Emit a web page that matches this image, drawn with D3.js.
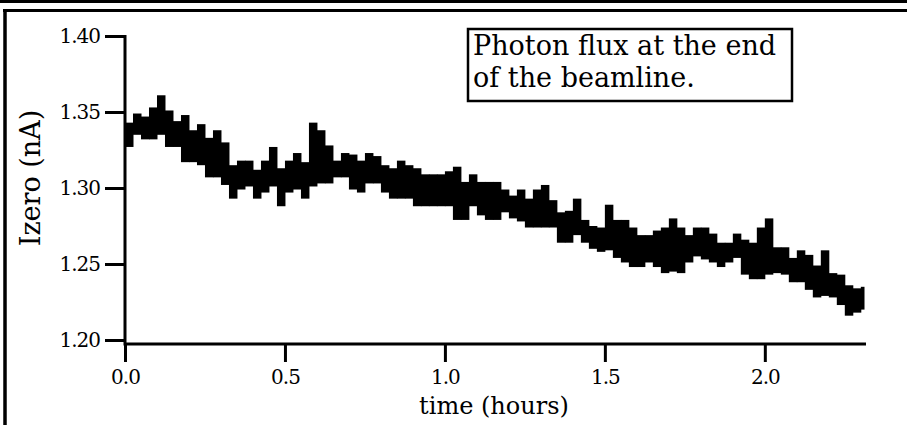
<!DOCTYPE html>
<html>
<head>
<meta charset="utf-8">
<script src="https://cdn.jsdelivr.net/npm/d3@7"></script>
<style>
  body { margin: 0; background: #fff; }
  .axis path, .axis line { stroke: #000; stroke-width: 3; }
  .axis text { font-family: "DejaVu Serif", serif; font-size: 20px; letter-spacing: -1px; fill: #000; }
</style>
</head>
<body>
<svg id="chart" width="907" height="425"></svg>
<script>
// upper and lower edge of the noisy trace, one pair every 0.025 h
var fluxHigh = [1.343,1.349,1.347,1.353,1.361,1.351,1.344,1.348,1.338,1.342,
    1.333,1.338,1.330,1.315,1.318,1.318,1.312,1.318,1.327,1.313,
    1.318,1.323,1.317,1.343,1.338,1.328,1.318,1.323,1.322,1.318,
    1.323,1.321,1.315,1.313,1.318,1.315,1.313,1.309,1.309,1.309,
    1.311,1.314,1.304,1.309,1.304,1.304,1.304,1.299,1.295,1.299,
    1.293,1.299,1.302,1.292,1.284,1.285,1.293,1.279,1.275,1.274,
    1.289,1.279,1.279,1.274,1.269,1.269,1.272,1.274,1.280,1.274,
    1.269,1.274,1.274,1.270,1.264,1.264,1.270,1.266,1.264,1.274,
    1.280,1.261,1.261,1.254,1.259,1.256,1.249,1.259,1.244,1.243,
    1.236,1.234,1.235];
var fluxLow = [1.327,1.335,1.332,1.332,1.335,1.327,1.327,1.317,1.317,1.315,
    1.307,1.307,1.302,1.293,1.299,1.301,1.293,1.297,1.301,1.288,
    1.297,1.299,1.293,1.301,1.303,1.303,1.307,1.307,1.299,1.297,
    1.303,1.303,1.297,1.293,1.293,1.293,1.288,1.288,1.288,1.288,
    1.288,1.279,1.279,1.288,1.282,1.279,1.279,1.284,1.280,1.278,
    1.274,1.274,1.274,1.274,1.264,1.264,1.269,1.264,1.260,1.258,
    1.259,1.254,1.251,1.248,1.248,1.251,1.248,1.244,1.245,1.244,
    1.251,1.255,1.253,1.251,1.248,1.251,1.254,1.243,1.240,1.240,
    1.243,1.244,1.243,1.238,1.238,1.233,1.228,1.229,1.228,1.223,
    1.216,1.218,1.220];
var sampleStep = 0.025;
var timeMax = 2.31;

var xTicks = [0.0, 0.5, 1.0, 1.5, 2.0];
var yTicks = [1.20, 1.25, 1.30, 1.35, 1.40];
var boxLines = ["Photon flux at the end", "of the beamline."];

var svg = d3.select('#chart');

var xScale = d3.scaleLinear().domain([0, timeMax]).range([125, 864]);
var yScale = d3.scaleLinear().domain([1.20, 1.40]).range([340, 36]);
var xAxisY = 344;

// page frame: double rule on top, single rule on the left
svg.append('line').attr('x1', 0).attr('x2', 907).attr('y1', 1.5).attr('y2', 1.5)
    .attr('stroke', '#000').attr('stroke-width', 3);
svg.append('line').attr('x1', 3).attr('x2', 907).attr('y1', 10.5).attr('y2', 10.5)
    .attr('stroke', '#000').attr('stroke-width', 3);
svg.append('line').attr('x1', 5).attr('x2', 5).attr('y1', 9).attr('y2', 425)
    .attr('stroke', '#000').attr('stroke-width', 3.5);

// trace as columns between low and high edge
var cols = fluxHigh.map(function(h, i) {
    return { t: i * sampleStep, hi: h, lo: fluxLow[i] };
});

svg.selectAll('.bar')
    .data(cols)
    .enter()
    .append('rect')
    .attr('class', 'bar')
    .attr('fill', '#000')
    .attr('x', function(d) { return xScale(d.t); })
    .attr('width', function(d) { return xScale(Math.min(d.t + sampleStep, timeMax)) - xScale(d.t) + 0.5; })
    .attr('y', function(d) { return yScale(d.hi); })
    .attr('height', function(d) { return yScale(d.lo) - yScale(d.hi); });

// y axis
var yAxis = d3.axisLeft(yScale).tickValues(yTicks).tickFormat(d3.format('.2f'))
    .tickSize(20).tickSizeOuter(0).tickPadding(5);
var gy = svg.append('g').attr('class', 'axis').attr('transform', 'translate(125,0)').call(yAxis);
gy.select('.domain').remove();
gy.append('line').attr('x1', 0).attr('x2', 0).attr('y1', yScale(1.40) - 1).attr('y2', xAxisY + 1.5);

// x axis
var xAxis = d3.axisBottom(xScale).tickValues(xTicks).tickFormat(d3.format('.1f'))
    .tickSize(18).tickSizeOuter(0).tickPadding(8);
var gx = svg.append('g').attr('class', 'axis').attr('transform', 'translate(0,' + xAxisY + ')').call(xAxis);
gx.select('.domain').remove();
gx.append('line').attr('x1', 124).attr('x2', 866).attr('y1', 0).attr('y2', 0);

// axis titles
svg.append('text')
    .attr('transform', 'translate(40,178) rotate(-90)')
    .attr('text-anchor', 'middle')
    .style('font-family', '"DejaVu Serif", serif')
    .style('font-size', '27px')
    .text('Izero (nA)');

svg.append('text')
    .attr('x', 494).attr('y', 414)
    .attr('text-anchor', 'middle')
    .style('font-family', '"DejaVu Serif", serif')
    .style('font-size', '24px')
    .text('time (hours)');

// annotation box
svg.append('rect')
    .attr('x', 468).attr('y', 29).attr('width', 324).attr('height', 72)
    .attr('fill', '#fff').attr('stroke', '#000').attr('stroke-width', 2.5);

svg.selectAll('.boxline')
    .data(boxLines)
    .enter()
    .append('text')
    .attr('class', 'boxline')
    .attr('x', 473)
    .attr('y', function(d, i) { return 55 + i * 32; })
    .style('font-family', '"DejaVu Serif", serif')
    .style('font-size', '27px')
    .text(function(d) { return d; });
</script>
</body>
</html>
